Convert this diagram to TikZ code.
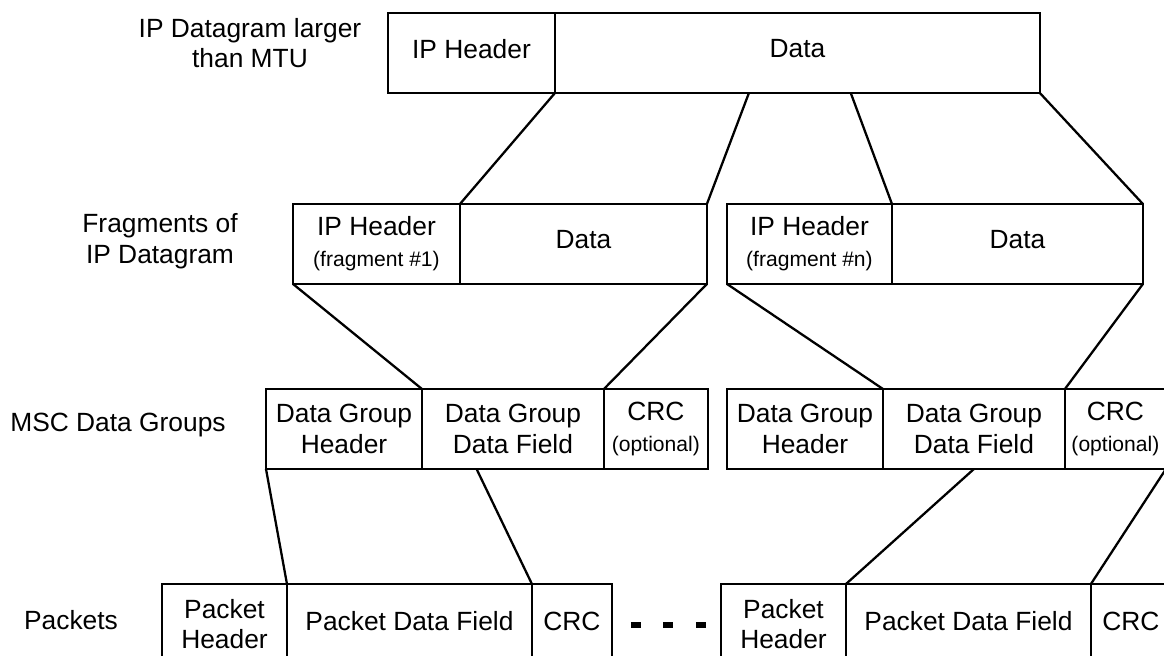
\documentclass[tikz,border=0pt]{standalone}
\usepackage{fontspec}
\setmainfont{Liberation Sans}
\usetikzlibrary{calc}
\newcommand{\cellnote}[1]{{\fontsize{12}{14}\selectfont #1}}

\begin{document}
\begin{tikzpicture}[x=0.02cm,y=-0.02cm,
      cell/.style={draw,line width=1.3pt,rectangle,inner sep=0pt,outer sep=0pt,anchor=north west,
         minimum height=1.6cm,align=center,font=\fontsize{15}{17.5}\selectfont},
      rowlabel/.style={align=center,font=\fontsize{15}{17.5}\selectfont},
      link/.style={line width=1.3pt}]
         \useasboundingbox (0,0) rectangle (1164,656) ;
         \clip (0,0) rectangle (1164,656) ;
         %\draw[very thin,gray,step=50] (0,0) grid (1164,656) ;
         % labels of the rows
         \node[rowlabel] (lbldg) at (250,43) {IP Datagram larger\\than MTU} ;
         \node[rowlabel] (lblfrag) at (160,241) {Fragments of\\IP Datagram} ;
         \node[rowlabel] (lblmsc) at (118,425) {MSC Data Groups} ;
         \node[rowlabel] (lblpkt) at (71,620) {Packets} ;
         % datagram
         \node[cell,minimum width=3.34cm] (dghdr) at (388,13) {\raisebox{5pt}{IP Header}} ;
         \node[cell,minimum width=9.7cm] (dgdata) at (dghdr.north east) {\raisebox{5pt}{Data}} ;
         % fragments
         \node[cell,minimum width=3.34cm] (f1hdr) at (293,204) {IP Header\\\cellnote{(fragment \#1)}} ;
         \node[cell,minimum width=4.94cm] (f1data) at (f1hdr.north east) {\raisebox{5pt}{Data}} ;
         \node[cell,minimum width=3.3cm] (fnhdr) at (727,204) {IP Header\\\cellnote{(fragment \#n)}} ;
         \node[cell,minimum width=5.02cm] (fndata) at (fnhdr.north east) {\raisebox{5pt}{Data}} ;
         % data groups
         \node[cell,minimum width=3.12cm] (g1hdr) at (266,389) {Data Group\\Header} ;
         \node[cell,minimum width=3.64cm] (g1data) at (g1hdr.north east) {Data Group\\Data Field} ;
         \node[cell,minimum width=2.08cm] (g1crc) at (g1data.north east) {CRC\\\cellnote{(optional)}} ;
         \node[cell,minimum width=3.12cm] (g2hdr) at (727,389) {Data Group\\Header} ;
         \node[cell,minimum width=3.64cm] (g2data) at (g2hdr.north east) {Data Group\\Data Field} ;
         \node[cell,minimum width=2.02cm] (g2crc) at (g2data.north east) {CRC\\\cellnote{(optional)}} ;
         % packets
         \node[cell,minimum width=2.5cm] (p1hdr) at (162,584) {Packet\\Header} ;
         \node[cell,minimum width=4.9cm] (p1data) at (p1hdr.north east) {\raisebox{3pt}{Packet Data Field}} ;
         \node[cell,minimum width=1.6cm] (p1crc) at (p1data.north east) {\raisebox{3pt}{CRC}} ;
         \node[cell,minimum width=2.5cm] (p2hdr) at (721,584) {Packet\\Header} ;
         \node[cell,minimum width=4.9cm] (p2data) at (p2hdr.north east) {\raisebox{3pt}{Packet Data Field}} ;
         \node[cell,minimum width=1.6cm] (p2crc) at (p2data.north east) {\raisebox{3pt}{CRC}} ;
         % datagram -> fragments
         \draw[link] (dghdr.south east) -- (f1hdr.north east) ;
         \draw[link] ($(dgdata.south west)!0.4!(dgdata.south east)$) -- (f1data.north east) ;
         \draw[link] ($(dgdata.south west)!0.61!(dgdata.south east)$) -- (fnhdr.north east) ;
         \draw[link] (dgdata.south east) -- (fndata.north east) ;
         % fragments -> data groups
         \draw[link] (f1hdr.south west) -- (g1hdr.north east) ;
         \draw[link] (f1data.south east) -- (g1data.north east) ;
         \draw[link] (fnhdr.south west) -- (g2hdr.north east) ;
         \draw[link] (fndata.south east) -- (g2data.north east) ;
         % data groups -> packets
         \draw[link] (g1hdr.south west) -- (p1hdr.north east) ;
         \draw[link] ($(g1data.south west)!0.3!(g1data.south east)$) -- (p1data.north east) ;
         \draw[link] (g2data.south) -- (p2hdr.north east) ;
         \draw[link] (g2crc.south east) -- (p2data.north east) ;
         % more packets
         \draw[line width=3.4pt,dash pattern=on 0.2cm off 0.45cm]
            ($(p1crc.east)+(19,1)$) -- ($(p2hdr.west)+(-13,1)$) ;
      \end{tikzpicture}
\end{document}
